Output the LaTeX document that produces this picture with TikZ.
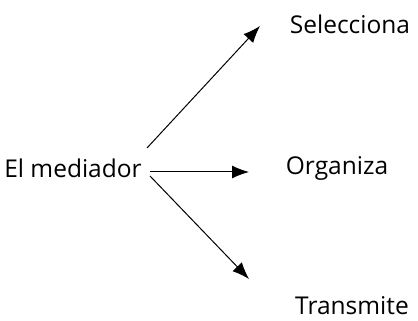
\documentclass[tikz,border=0pt]{standalone}
\usepackage{fontspec}
\setmainfont{Open Sans}
\usetikzlibrary{arrows.meta}
\begin{document}
\begin{tikzpicture}[x=1pt, y=1pt,
    word/.style={inner sep=0pt, font=\fontsize{24.5}{28}\selectfont},
    flecha/.style={line width=1pt, -{Latex[length=17pt, width=13pt]}}]
\useasboundingbox (0,0) rectangle (418,321);
\node[word] (med) at (73,153) {El mediador};
\node[word] (sel) at (350,297) {Selecciona};
\node[word] (org) at (337,153) {Organiza};
\node[word] (tra) at (352,15) {Transmite};

\coordinate (s1) at (147,173);
\coordinate (s2) at (150,149);
\coordinate (s3) at (150,145);
\coordinate (e1) at (260,295);
\coordinate (e2) at (249,149);
\coordinate (e3) at (249,42);

\draw[flecha] (s1) -- (e1);
\draw[flecha] (s2) -- (e2);
\draw[flecha] (s3) -- (e3);
\end{tikzpicture}
\end{document}
